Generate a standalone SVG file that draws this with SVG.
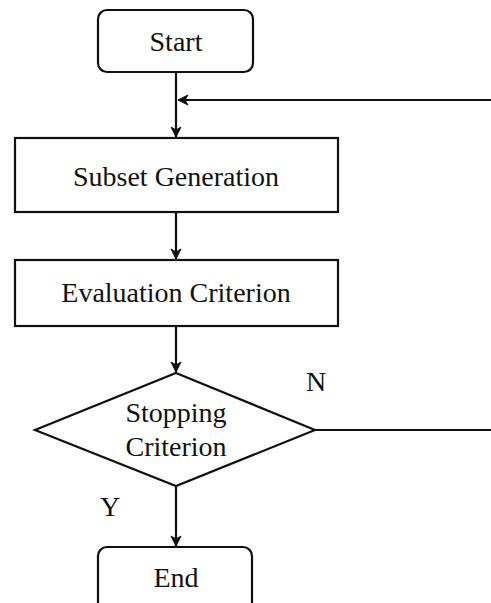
<svg xmlns="http://www.w3.org/2000/svg" width="491" height="603" viewBox="0 0 491 603">
<style>
.box{fill:#fff;stroke:#111;stroke-width:2.2}
.t{font-family:'Liberation Serif','DejaVu Serif',serif;font-size:28px;fill:#111;text-anchor:middle}
.c{fill:none;stroke:#111;stroke-width:2.2}
</style>
<defs>
<marker id="ah" viewBox="0 0 12 12" refX="11" refY="6" markerWidth="12" markerHeight="12" markerUnits="userSpaceOnUse" orient="auto">
<path d="M1,1 L11,6 L1,11 L4,6 Z" fill="#111" stroke="#111" stroke-width="1" stroke-linejoin="round"/>
</marker>
</defs>
<rect width="491" height="603" fill="#fff"/>
<g id="connectors">
<line class="c" x1="176" y1="72" x2="176" y2="137" marker-end="url(#ah)"/>
<line class="c" x1="491" y1="100" x2="178" y2="100" marker-end="url(#ah)"/>
<line class="c" x1="176" y1="212" x2="176" y2="259" marker-end="url(#ah)"/>
<line class="c" x1="176" y1="326" x2="176" y2="372" marker-end="url(#ah)"/>
<line class="c" x1="315" y1="430" x2="491" y2="430"/>
<line class="c" x1="176" y1="486" x2="176" y2="546" marker-end="url(#ah)"/>
<text class="t" font-family="Liberation Serif" x="316" y="391">N</text>
<text class="t" font-family="Liberation Serif" x="110" y="516">Y</text>
</g>
<g id="start">
<rect class="box" x="98" y="10" width="155" height="62" rx="9"/>
<text class="t" font-family="Liberation Serif" x="176" y="51">Start</text>
</g>
<g id="subset">
<rect class="box" x="15" y="138" width="323" height="74"/>
<text class="t" font-family="Liberation Serif" x="176" y="186">Subset Generation</text>
</g>
<g id="evaluation">
<rect class="box" x="15" y="260" width="323" height="66"/>
<text class="t" font-family="Liberation Serif" x="176" y="302">Evaluation Criterion</text>
</g>
<g id="stopping">
<polygon class="box" points="176,373 315,430 176,486 35,430"/>
<text class="t" font-family="Liberation Serif" x="176" y="422">Stopping</text>
<text class="t" font-family="Liberation Serif" x="176" y="456">Criterion</text>
</g>
<g id="end">
<rect class="box" x="98" y="547" width="154" height="70" rx="9"/>
<text class="t" font-family="Liberation Serif" x="176" y="587">End</text>
</g>
</svg>
